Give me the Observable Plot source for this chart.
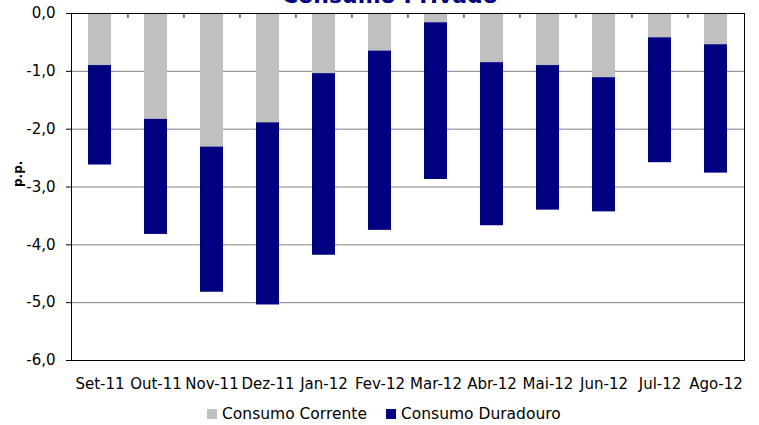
<!DOCTYPE html>
<html>
<head>
<meta charset="utf-8">
<script src="https://cdn.jsdelivr.net/npm/d3@7"></script>
<script src="https://cdn.jsdelivr.net/npm/@observablehq/plot@0.6"></script>
<style>
  html, body { margin: 0; padding: 0; background: #fff; overflow: hidden; }
  #wrap { position: relative; width: 759px; height: 425px; font-family: "DejaVu Sans", Verdana, sans-serif; }
  #title { position: absolute; top: -17px; left: 0; width: 780px; text-align: center; font-weight: bold; font-size: 22px; color: #000080; white-space: nowrap; }
  #chart { position: absolute; top: 0; left: 0; }
  #legend { position: absolute; top: 405px; left: 207px; display: flex; align-items: center; font-size: 15.5px; color: #000; white-space: nowrap; }
  .sw { display: inline-block; width: 10px; height: 10px; margin-right: 5px; }
  .item { display: flex; align-items: center; margin-right: 19px; }
</style>
</head>
<body>
<div id="wrap">
  <div id="chart"></div>
  <div id="title">Consumo Privado</div>
  <div id="legend"></div>
</div>
<script>
const months = ["Set-11","Out-11","Nov-11","Dez-11","Jan-12","Fev-12","Mar-12","Abr-12","Mai-12","Jun-12","Jul-12","Ago-12"];
const seriesNames = ["Consumo Corrente", "Consumo Duradouro"];
const consumoCorrente = [-0.90, -1.83, -2.31, -1.89, -1.04, -0.65, -0.16, -0.85, -0.90, -1.11, -0.42, -0.54];
const consumoDuradouro = [-1.72, -1.99, -2.51, -3.15, -3.14, -3.10, -2.71, -2.82, -2.50, -2.32, -2.16, -2.22];
const yTicks = [0, -1, -2, -3, -4, -5, -6];
const colors = ["#C0C0C0", "#000080"];

const data = [
  ...months.map((m, i) => ({month: m, series: seriesNames[0], value: consumoCorrente[i]})),
  ...months.map((m, i) => ({month: m, series: seriesNames[1], value: consumoDuradouro[i]}))
];

const W = 759, H = 397;
const mL = 71, mR = 15, mT = 13, mB = H - 360;
const step = (W - mL - mR) / months.length;
const frameH = H - mT - mB;
const fmt = d => d.toFixed(1).replace(".", ",");

const chart = Plot.plot({
  width: W,
  height: H,
  marginLeft: mL,
  marginRight: mR,
  marginTop: mT,
  marginBottom: mB,
  style: {fontFamily: "DejaVu Sans, Verdana, sans-serif", fontSize: "15px", color: "#000", background: "#fff", overflow: "visible"},
  x: {domain: months, paddingInner: 0.59, paddingOuter: 0.295, label: null},
  y: {domain: [-6, 0], label: null},
  color: {domain: seriesNames, range: colors},
  marks: [
    Plot.gridY(yTicks.slice(1, -1), {stroke: "#808080", strokeOpacity: 1, strokeWidth: 1}),
    Plot.barY(data, Plot.stackY({x: "month", y: "value", fill: "series", order: null})),
    Plot.axisY(yTicks, {tickSize: 5, tickPadding: 11, tickFormat: fmt, label: null, fontSize: 15}),
    Plot.axisX({tickSize: 0, tickPadding: 18, label: null, fontSize: 15}),
    Plot.ruleX(months.slice(1), {dx: -step / 2, insetBottom: frameH - 5, stroke: "#000"}),
    Plot.frame({stroke: "#000", strokeWidth: 1}),
    Plot.text(["p.p."], {frameAnchor: "left", dx: -53, rotate: -90, fontWeight: "bold", fontSize: 12})
  ]
});
document.getElementById("chart").appendChild(chart);

const legend = document.getElementById("legend");
seriesNames.forEach((s, i) => {
  const it = document.createElement("div");
  it.className = "item";
  it.innerHTML = `<span class="sw" style="background:${colors[i]}"></span><span>${s}</span>`;
  legend.appendChild(it);
});
</script>
</body>
</html>
